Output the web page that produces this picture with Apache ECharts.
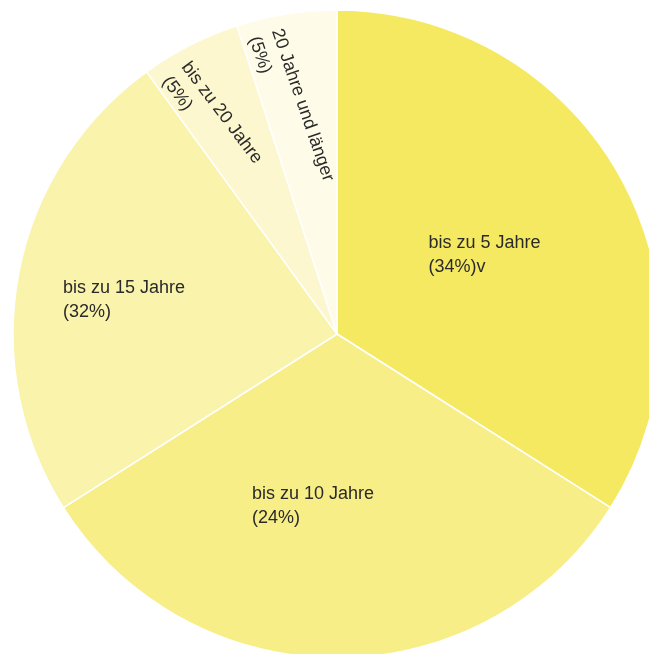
<!DOCTYPE html>
<html>
<head>
<meta charset="utf-8">
<style>
  html, body { margin: 0; padding: 0; background: #ffffff; }
  #chart { width: 649px; height: 654px; }
</style>
<script src="https://cdn.jsdelivr.net/npm/echarts@6/dist/echarts.min.js"></script>
</head>
<body>
<div id="chart"></div>
<script>
// Data
const categories = ['bis zu 5 Jahre', 'bis zu 10 Jahre', 'bis zu 15 Jahre', 'bis zu 20 Jahre', '20 Jahre und länger'];
const values = [34, 32, 24, 5, 5];
const percentLabels = ['(34%)v', '(24%)', '(32%)', '(5%)', '(5%)'];
const colors = ['#F6E962', '#F8EE88', '#FAF3AB', '#FCF7CE', '#FEFCE9'];

// label styling per slice (rotation for the narrow slices, small screen-space nudges)
const labelRotate = [0, 0, 0, -53, -71];
const labelShift = [[3, 1], [-24, 7], [-51, -3], [-50, -67], [-20, -62]];

const chart = echarts.init(document.getElementById('chart'), null, { renderer: 'canvas' });

const data = categories.map((name, i) => ({
  name: name,
  value: values[i],
  itemStyle: { color: colors[i] },
  label: {
    rotate: labelRotate[i],
    formatter: '{t|' + name + '}\n{t|' + percentLabels[i] + '}'
  }
}));

chart.setOption({
  backgroundColor: '#ffffff',
  animation: false,
  series: [{
    type: 'pie',
    center: [337, 334],
    radius: [0, 324],
    startAngle: 90,
    clockwise: true,
    avoidLabelOverlap: false,
    silent: true,
    itemStyle: { borderColor: '#ffffff', borderWidth: 1.5 },
    label: {
      show: true,
      position: 'inside',
      color: '#2a2a2a',
      fontFamily: 'Liberation Sans, Arial, sans-serif',
      fontSize: 18,
      lineHeight: 24,
      rich: {
        t: { align: 'left', color: '#2a2a2a', fontFamily: 'Liberation Sans, Arial, sans-serif', fontSize: 18, lineHeight: 24 }
      }
    },
    labelLine: { show: false },
    labelLayout: function (params) {
      const i = params.dataIndex;
      const s = labelShift[i];
      // the nudge is applied in the label's rotated frame: convert screen shift to local
      const th = -labelRotate[i] * Math.PI / 180;
      const c = Math.cos(th), sn = Math.sin(th);
      return { dx: s[0] * c + s[1] * sn, dy: -s[0] * sn + s[1] * c };
    },
    data: data
  }]
});
</script>
</body>
</html>
